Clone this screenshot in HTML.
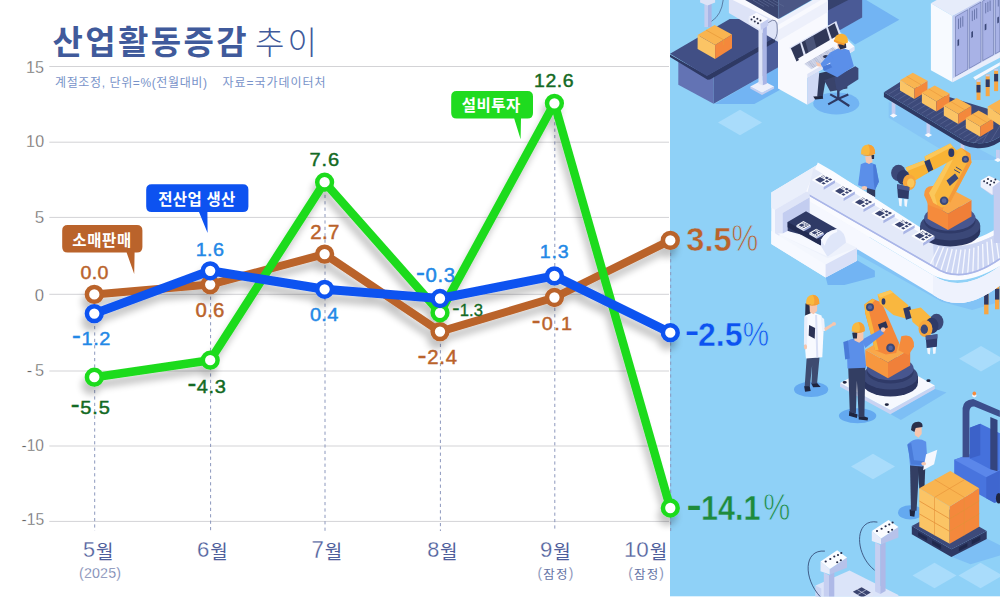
<!DOCTYPE html>
<html lang="ko"><head><meta charset="utf-8"><title>산업활동증감 추이</title>
<style>
html,body{margin:0;padding:0;background:#fff;}
body{width:1000px;height:598px;overflow:hidden;font-family:"Liberation Sans",sans-serif;}
svg{display:block;}
svg text{font-family:"Liberation Sans",sans-serif;}
svg text.k{font-family:"Liberation Sans","Noto Sans CJK KR",sans-serif;}
</style></head><body>
<svg width="1000" height="598" viewBox="0 0 1000 598" font-family="Liberation Sans, sans-serif"><rect x="0" y="0" width="1000" height="598" fill="#fff"/>
<defs><clipPath id="pc"><rect x="670" y="0" width="330" height="596.6"/></clipPath></defs><g clip-path="url(#pc)">
<rect x="670" y="0" width="330" height="596.6" fill="#8fd1f7"/>
<polygon points="718,122.5 740,109.8 762,122.5 740,135.2" fill="#a9dcfb"/>
<polygon points="851,466.5 873,453.8 895,466.5 873,479.2" fill="#a9dcfb"/>
<polygon points="912.5,575.5 934.5,562.8 956.5,575.5 934.5,588.2" fill="#a9dcfb"/>
<polygon points="958.5,575.5 980.5,562.8 1002.5,575.5 980.5,588.2" fill="#a9dcfb"/>
<polygon points="959,358.8 981,346.1 1003,358.8 981,371.5" fill="#a9dcfb"/>
<polygon points="714.4,104.1 754.3,104.1 780.6,89.5 780.6,65.7" fill="#72b4f3"/>
<polygon points="704.4,0 708.1,0 708.1,27.1 704.4,27.1" fill="#c4cdf0"/>
<polygon points="708.1,0 711.6,0 711.6,27.1 708.1,27.1" fill="#a9b4e5"/>
<polygon points="700.1,0 715.1,0 715.1,2.5 707.6,5.5 700.1,2.5" fill="#dde3f7"/>
<polygon points="678.3,60.2 713.6,77.8 713.6,103.8 678.3,84.8" fill="#6373b4"/>
<polygon points="713.6,75.7 778.4,39.1 778.4,67.2 713.6,103.8" fill="#4c5d9b"/>
<polygon points="670,54.4 706.9,75.5 775.3,36.6 775.3,41.9 710.1,79.5 707.6,79.8 670,56.9" fill="#2e3964"/>
<polygon points="670,53.7 729.7,19.1 779.1,19.1 779.1,35.1 706.9,76" fill="#414f85"/>
<polygon points="697.6,35.1 715.1,45.1 715.1,58.9 697.6,48.9" fill="#fbc465"/>
<polygon points="715.1,45.1 732,34.4 732,48.2 715.1,58.9" fill="#f4883c"/>
<polygon points="697.6,35.1 714.6,25.1 732,34.4 715.1,45.1" fill="#f9b450"/>
<polyline points="706.1,30.1 723.7,39.9 723.7,45.1" fill="none" stroke="#e89a3a" stroke-width="0.8"/>
<polygon points="728.9,0 745.2,0 778.4,19.6 778.4,42.1 728.9,13" fill="#dde3f7"/>
<polygon points="732.7,0 747.8,0 779.4,18.1 779.4,23.1" fill="#f8f9fe"/>
<polygon points="745.2,0 778.4,0 778.4,19.1" fill="#39446f"/>
<polygon points="778.4,0 811.7,0 778.4,19.1" fill="#4a5685"/>
<polyline points="752.8,0 764.1,6.5" fill="none" stroke="#5c6894" stroke-width="0.7"/>
<polyline points="757.8,0 769.1,6.5" fill="none" stroke="#5c6894" stroke-width="0.7"/>
<polyline points="762.8,0 774.1,6.5" fill="none" stroke="#5c6894" stroke-width="0.7"/>
<polyline points="767.8,0 779.1,6.5" fill="none" stroke="#5c6894" stroke-width="0.7"/>
<polyline points="772.8,0 784.1,6.5" fill="none" stroke="#5c6894" stroke-width="0.7"/>
<path d="M723.2,0Q721.4,15 711.6,21.3" fill="none" stroke="#39446f" stroke-width="0.6"/>
<polygon points="750.3,86.5 762,92.8 774.1,86.5 774.1,88.5 762,95.1 750.3,88.5" fill="#c4cdf0"/>
<polygon points="750.3,86.5 762,80.3 774.1,86.5 762,92.8" fill="#edf0fb"/>
<polygon points="758.5,25.1 762.8,25.1 762.8,85.3 758.5,83.8" fill="#dde3f7"/>
<polygon points="762.8,25.1 766.8,25.1 766.8,83.8 762.8,85.3" fill="#a9b4e5"/>
<polygon points="748.3,17.1 756.5,12.5 768.3,19.1 768.3,25.6 760.8,30.1 748.3,23.1" fill="#c4cdf0"/>
<polygon points="748.3,17.1 756.5,12.5 768.3,19.1 760.3,23.8" fill="#f8f9fe"/>
<polygon points="748.3,17.1 760.3,23.8 760.8,30.1 748.3,23.1" fill="#edf0fb"/>
<ellipse cx="751.5" cy="19.6" rx="1" ry="1" fill="#2a2f4a"/>
<ellipse cx="754.8" cy="21.6" rx="1" ry="1" fill="#2a2f4a"/>
<ellipse cx="758" cy="23.3" rx="1" ry="1" fill="#2a2f4a"/>
<ellipse cx="754" cy="17.1" rx="1" ry="1" fill="#2a2f4a"/>
<ellipse cx="757.3" cy="18.8" rx="1" ry="1" fill="#2a2f4a"/>
<ellipse cx="760.5" cy="20.6" rx="1" ry="1" fill="#2a2f4a"/>
<path d="M768.3,22.6Q777.9,15 777.3,30.1Q777.3,37.6 772.8,41.4" fill="none" stroke="#39446f" stroke-width="0.6"/>
<polygon points="862.2,0 866.2,0 899.3,19.7 855.1,44.6 838.3,30.1 862.2,17.5" fill="#72b4f3"/>
<polygon points="827.8,0 862.2,0 862.2,17.5 840.1,29.9 827.8,25.1" fill="#4a5a96"/>
<polygon points="827.8,0 848.3,0 827.8,10.4" fill="#36426e"/>
<polygon points="778,20.1 827.8,-8.4 827.8,26.1 840.7,33.7 854.3,46.6 854.3,50.6 807.3,77.9 807.3,104.8 778,88.4" fill="#f8f9fe"/>
<polygon points="778,20.1 827.8,-8.4 827.8,-4 778,24.9" fill="#edf0fb"/>
<polygon points="778,30.1 827.8,1 827.8,12 778,41.2" fill="#edf0fb"/>
<polygon points="789.3,47.8 836.3,20.9 840.7,33.7 798.1,58.6" fill="#dde3f7"/>
<polygon points="790.9,48.2 800.1,43 804.1,57 796.5,61.4" fill="#2f3757"/>
<polygon points="801.7,42.2 826.2,28.1 830.2,41.2 806.1,55.2" fill="#2f3757"/>
<polygon points="827.8,27.3 834.7,23.3 839.3,35.7 832.2,39.8" fill="#2f3757"/>
<polygon points="805.1,40.6 813.2,35.7 816.6,48.2 808.6,53" fill="#4a5478"/>
<polygon points="798.1,58.6 840.7,33.7 854.3,46.6 807.3,73.9" fill="#f8f9fe"/>
<polygon points="807.3,73.9 854.3,46.6 854.3,50.6 807.3,77.9" fill="#dde3f7"/>
<polygon points="804.1,63.9 833.9,46.6 840.3,52.6 811.2,69.3" fill="#dfe4f5"/>
<polyline points="805.7,63.5 833.5,47.4" fill="none" stroke="#555f86" stroke-width="0.5" stroke-dasharray="0.7 0.7"/>
<polyline points="806.7,64.3 834.5,48.2" fill="none" stroke="#555f86" stroke-width="0.5" stroke-dasharray="0.7 0.7"/>
<polyline points="807.8,65.1 835.5,49" fill="none" stroke="#555f86" stroke-width="0.5" stroke-dasharray="0.7 0.7"/>
<polyline points="808.8,65.9 836.5,49.8" fill="none" stroke="#555f86" stroke-width="0.5" stroke-dasharray="0.7 0.7"/>
<polyline points="809.8,66.7 837.5,50.6" fill="none" stroke="#555f86" stroke-width="0.5" stroke-dasharray="0.7 0.7"/>
<polyline points="810.8,67.5 838.5,51.4" fill="none" stroke="#555f86" stroke-width="0.5" stroke-dasharray="0.7 0.7"/>
<polyline points="811.8,68.3 839.5,52.2" fill="none" stroke="#555f86" stroke-width="0.5" stroke-dasharray="0.7 0.7"/>
<ellipse cx="825.8" cy="56.6" rx="2.8" ry="1.6" fill="#2f3757"/>
<polygon points="807.3,77.9 819.2,71.1 819.2,98 807.3,104.8" fill="#cfd9f5"/>
<ellipse cx="836.3" cy="103.4" rx="23.1" ry="11" fill="#72b4f3"/>
<polyline points="828.2,104.4 838.3,98.8 849.3,106" fill="none" stroke="#2e3964" stroke-width="2.2"/>
<polyline points="830.2,94.4 838.3,98.8 848.3,94.4" fill="none" stroke="#2e3964" stroke-width="2.2"/>
<polyline points="838.3,88.4 838.3,98.8" fill="none" stroke="#2e3964" stroke-width="2.4"/>
<polygon points="819.2,73.3 836.3,69.3 839.3,79.3 825.2,82.3 822.6,97.4 817.2,96.4" fill="#2f3a5c"/>
<polygon points="813.2,96.4 822.6,96 823.2,98.8 815.2,99.6" fill="#20263f"/>
<polygon points="824.2,80.3 839.3,74.7 847.3,82.3 847.3,88.4 830.2,91.4" fill="#39436b"/>
<polygon points="834.3,77.3 855.3,66.3 858.4,68.3 858.4,79.3 839.3,91.4 836.3,88.4" fill="#3b4878"/>
<polygon points="830.2,52.6 840.3,47.2 849.3,50.2 853.9,66.3 837.3,77.3 823.2,70.3 822.6,66.3 830.2,64.3" fill="#5b8fe9"/>
<polygon points="822.6,66.3 830.2,63.9 832.2,67.3 824.2,70.7" fill="#4a7bd8"/>
<polygon points="830.2,52.6 833.9,60.2 822.6,67.3 820.2,64.3" fill="#5b8fe9"/>
<polygon points="815.8,61.8 820.6,63.9 821.8,66.7 817.4,66.3" fill="#f6c6ae"/>
<ellipse cx="841.3" cy="45.2" rx="4" ry="4.4" fill="#f6c6ae"/>
<polygon points="837.9,44.6 845.9,43.2 846.3,47.8 840.3,49.4" fill="#2a2f4a"/>
<path d="M834.3,40.2Q835.3,33.1 842.3,33.7Q848.7,35.1 847.9,42.6L844.7,43.8Q838.3,43.2 834.3,40.2Z" fill="#f9b335"/>
<polygon points="833.9,39.4 839.3,41.8 844.7,43.8 844.3,45.4 838.3,43.8 833.9,41.4" fill="#f59a2e"/>
<polygon points="930.9,3.3 936.7,0 983.5,0 952.6,15.9" fill="#e6ecfa"/>
<polygon points="930.9,3.3 952.6,15.9 952.6,82.3 930.9,70.2" fill="#f7faff"/>
<polygon points="952.6,15.9 999.9,-10.4 999.9,56.5 952.6,82.3" fill="#c3cdf1"/>
<polygon points="955.5,16.7 967.7,9.7 967.7,69.4 955.5,76.4" fill="#a8b2e6" stroke="#55639a" stroke-width="0.5"/>
<polyline points="958.5,18.7 958.5,29.1" fill="none" stroke="#6b78ad" stroke-width="1"/>
<polyline points="960.6,17.5 960.6,27.8" fill="none" stroke="#6b78ad" stroke-width="1"/>
<polyline points="962.8,16.2 962.8,26.6" fill="none" stroke="#6b78ad" stroke-width="1"/>
<polygon points="957.5,40.1 959.1,39.1 959.1,45.2 957.5,46.2" fill="#3b4878"/>
<polygon points="969.3,8.7 981,2 981,61.7 969.3,68.4" fill="#a8b2e6" stroke="#55639a" stroke-width="0.5"/>
<polyline points="972.3,10.7 972.3,21.1" fill="none" stroke="#6b78ad" stroke-width="1"/>
<polyline points="974.5,9.4 974.5,19.8" fill="none" stroke="#6b78ad" stroke-width="1"/>
<polyline points="976.7,8.2 976.7,18.6" fill="none" stroke="#6b78ad" stroke-width="1"/>
<polygon points="971.3,32.1 973,31.1 973,37.1 971.3,38.1" fill="#3b4878"/>
<polygon points="982.7,1 993.6,-5 993.6,54.7 982.7,60.7" fill="#a8b2e6" stroke="#55639a" stroke-width="0.5"/>
<polyline points="985.7,3 985.7,13.4" fill="none" stroke="#6b78ad" stroke-width="1"/>
<polyline points="987.9,1.8 987.9,12.1" fill="none" stroke="#6b78ad" stroke-width="1"/>
<polyline points="990.1,0.5 990.1,10.9" fill="none" stroke="#6b78ad" stroke-width="1"/>
<polygon points="984.7,24.4 986.4,23.4 986.4,29.4 984.7,30.4" fill="#3b4878"/>
<polygon points="995.3,-5.9 999.9,-8.4 999.9,51.3 995.3,53.8" fill="#a8b2e6" stroke="#55639a" stroke-width="0.5"/>
<polyline points="998.3,-3.8 998.3,6.5" fill="none" stroke="#6b78ad" stroke-width="1"/>
<polygon points="997.3,17.6 998.9,16.6 998.9,22.6 997.3,23.6" fill="#3b4878"/>
<polygon points="952.6,78.6 999.9,52.2 999.9,57.7 952.6,82.3" fill="#e9eefb"/>
<polygon points="973.2,77.3 999.9,62.2 999.9,65.6 975.2,79.9" fill="#f4f7fe"/>
<polygon points="976.5,79.9 980.5,79.9 980.5,100 976.5,100" fill="#f7a642"/>
<polygon points="976.5,84.9 980.5,84.9 980.5,92.5 976.5,92.5" fill="#2f3964"/>
<polygon points="976.5,79.9 980.5,79.9 980.5,81.9 976.5,81.9" fill="#c4cdf0"/>
<polygon points="985.7,74.4 989.7,74.4 989.7,96.2 985.7,96.2" fill="#f7a642"/>
<polygon points="985.7,79.4 989.7,79.4 989.7,87 985.7,87" fill="#2f3964"/>
<polygon points="985.7,74.4 989.7,74.4 989.7,76.4 985.7,76.4" fill="#c4cdf0"/>
<polygon points="994.1,68.9 998.1,68.9 998.1,91.1 994.1,91.1" fill="#f7a642"/>
<polygon points="994.1,73.9 998.1,73.9 998.1,81.4 994.1,81.4" fill="#2f3964"/>
<polygon points="994.1,68.9 998.1,68.9 998.1,70.9 994.1,70.9" fill="#c4cdf0"/>
<polygon points="888.7,101.7 899.4,107 1000,160 958.3,160 888.7,117.7" fill="#86c6f6"/>
<polygon points="891.7,100.3 895.4,100.3 895.4,115.6 891.7,115.6" fill="#c4cdf0"/>
<polygon points="889.8,115.6 893.5,113.4 897.3,115.6 893.5,117.7" fill="#f8f9fe"/>
<polygon points="926.5,120.4 930.2,120.4 930.2,135.1 926.5,135.1" fill="#c4cdf0"/>
<polygon points="924.6,135.1 928.3,133 932.1,135.1 928.3,137.3" fill="#f8f9fe"/>
<polygon points="960.7,139.1 964.4,139.1 964.4,153.8 960.7,153.8" fill="#c4cdf0"/>
<polygon points="958.8,153.8 962.6,151.7 966.3,153.8 962.6,156" fill="#f8f9fe"/>
<polygon points="996,149.8 999.8,149.8 999.8,160 996,160" fill="#c4cdf0"/>
<polygon points="994.1,160 997.9,157.9 1001.6,160 997.9,162.1" fill="#f8f9fe"/>
<path d="M883.9,92.3L883.9,96.9L963.6,145Q969.5,147.7 977.6,148.2Q989.1,148.8 1000,141.8L1000,136.7Q987.7,144.5 977,143.1Q969,142.3 963.6,140.2Z" fill="#2e3964"/>
<path d="M883.9,92.3L900,81.9L1000,112.4L1000,136.7Q987.7,144.5 977,143.1Q969,142.3 963.6,140.2Z" fill="#3d4a7a"/>
<polyline points="888.7,94.2 902.1,85.9" fill="none" stroke="#5f6c99" stroke-width="0.6"/>
<polyline points="893.4,96.9 906.8,88.6" fill="none" stroke="#5f6c99" stroke-width="0.6"/>
<polyline points="898.1,99.6 911.5,91.3" fill="none" stroke="#5f6c99" stroke-width="0.6"/>
<polyline points="902.8,102.4 916.2,94.1" fill="none" stroke="#5f6c99" stroke-width="0.6"/>
<polyline points="907.5,105.1 920.8,96.8" fill="none" stroke="#5f6c99" stroke-width="0.6"/>
<polyline points="912.1,107.8 925.5,99.5" fill="none" stroke="#5f6c99" stroke-width="0.6"/>
<polyline points="916.8,110.6 930.2,102.3" fill="none" stroke="#5f6c99" stroke-width="0.6"/>
<polyline points="921.5,113.3 934.9,105" fill="none" stroke="#5f6c99" stroke-width="0.6"/>
<polyline points="926.2,116 939.6,107.7" fill="none" stroke="#5f6c99" stroke-width="0.6"/>
<polyline points="930.9,118.7 944.2,110.4" fill="none" stroke="#5f6c99" stroke-width="0.6"/>
<polyline points="935.6,121.5 948.9,113.2" fill="none" stroke="#5f6c99" stroke-width="0.6"/>
<polyline points="940.2,124.2 953.6,115.9" fill="none" stroke="#5f6c99" stroke-width="0.6"/>
<polyline points="944.9,126.9 958.3,118.6" fill="none" stroke="#5f6c99" stroke-width="0.6"/>
<polyline points="949.6,129.7 963,121.4" fill="none" stroke="#5f6c99" stroke-width="0.6"/>
<polyline points="954.3,132.4 967.7,124.1" fill="none" stroke="#5f6c99" stroke-width="0.6"/>
<polyline points="959,135.1 972.3,126.8" fill="none" stroke="#5f6c99" stroke-width="0.6"/>
<polyline points="963.6,137.8 977,129.6" fill="none" stroke="#5f6c99" stroke-width="0.6"/>
<polyline points="968.3,140.6 981.7,132.3" fill="none" stroke="#5f6c99" stroke-width="0.6"/>
<polyline points="973,143.3 986.4,135" fill="none" stroke="#5f6c99" stroke-width="0.6"/>
<polyline points="974.9,142.9 985.1,125.8" fill="none" stroke="#5f6c99" stroke-width="0.6"/>
<polyline points="982.4,142.9 993.6,123.6" fill="none" stroke="#5f6c99" stroke-width="0.6"/>
<polyline points="990.9,140.7 1000,125.8" fill="none" stroke="#5f6c99" stroke-width="0.6"/>
<polygon points="900,80.3 914.4,88.8 914.4,99 900,90.4" fill="#fbc465"/>
<polygon points="914.4,88.8 927.5,80.8 927.5,91 914.4,99" fill="#f4883c"/>
<polygon points="900,80.3 912.8,72.8 927.5,80.8 914.4,88.8" fill="#f9b450"/>
<polyline points="906.7,76.3 921.1,84.8 921.1,88.8" fill="none" stroke="#e8963a" stroke-width="0.6"/>
<polygon points="921.9,92.8 936.4,101.4 936.4,111.6 921.9,103" fill="#fbc465"/>
<polygon points="936.4,101.4 949.5,93.4 949.5,103.5 936.4,111.6" fill="#f4883c"/>
<polygon points="921.9,92.8 934.7,85.4 949.5,93.4 936.4,101.4" fill="#f9b450"/>
<polyline points="928.6,88.8 943,97.4 943,101.4" fill="none" stroke="#e8963a" stroke-width="0.6"/>
<polygon points="943.8,105.4 958.3,114 958.3,124.1 943.8,115.6" fill="#fbc465"/>
<polygon points="958.3,114 971.4,106 971.4,116.1 958.3,124.1" fill="#f4883c"/>
<polygon points="943.8,105.4 956.7,97.9 971.4,106 958.3,114" fill="#f9b450"/>
<polyline points="950.5,101.4 965,110 965,114" fill="none" stroke="#e8963a" stroke-width="0.6"/>
<polygon points="965.8,118 980.2,126.6 980.2,136.7 965.8,128.2" fill="#fbc465"/>
<polygon points="980.2,126.6 993.3,118.5 993.3,128.7 980.2,136.7" fill="#f4883c"/>
<polygon points="965.8,118 978.6,110.5 993.3,118.5 980.2,126.6" fill="#f9b450"/>
<polyline points="972.5,114 986.9,122.5 986.9,126.6" fill="none" stroke="#e8963a" stroke-width="0.6"/>
<polygon points="987.7,106.5 1001.1,115.6 1001.1,126.3 987.7,117.2" fill="#fbc465"/>
<polygon points="1001.1,115.6 1014.5,107.6 1014.5,118.3 1001.1,126.3" fill="#f4883c"/>
<polygon points="987.7,106.5 1000,99.5 1014.5,107.6 1001.1,115.6" fill="#f9b450"/>
<polygon points="866.6,188.2 875.2,186.5 875.2,197 867.2,195.8" fill="#2f3a5c"/>
<path d="M860.8,164.2Q868.4,160.1 875.6,164.8L878.9,181.8L874.8,190L864.9,187.6L858.1,185.3Z" fill="#5b8fe9"/>
<path d="M873.1,164.2L875.6,164.8L878.9,181.8L874.8,190L873.7,181.8Z" fill="#4a7bd8"/>
<ellipse cx="864.4" cy="187.9" rx="2.8" ry="1.9" fill="#f6c6ae"/>
<polygon points="865.1,156.6 872.1,156.1 872.5,162.1 869,164 866.1,162.5" fill="#f6c6ae"/>
<polygon points="871.3,155.1 874.2,155.1 874,159 871.9,159" fill="#2a2f4a"/>
<path d="M861,153.8Q860.7,144.7 868,144.4Q875.4,144.7 875.1,153.8Q868,156.6 861,153.8Z" fill="#f9b93f"/>
<path d="M868,144.4Q875.4,144.7 875.1,153.8Q871.5,155.6 868.7,155.2Q871.2,150 868,144.4Z" fill="#f6a136"/>
<path d="M860,153.8Q868,158.4 875.4,153.5Q868,156.3 860,153.8Z" fill="#f19a30"/>
<polygon points="852.6,251.7 941.7,301.7 972.2,310 1000,301.7 1000,282.2 950.4,293 859.1,243" fill="#82c3f6"/>
<polygon points="825.6,277.1 857,260.3 874.9,270.8 874.9,277.1 844.4,285 827.7,285" fill="#72b4f3"/>
<polygon points="984.1,283.9 988.5,283.9 988.5,314.3 984.1,314.3" fill="#f7a642"/>
<polygon points="984.1,293.7 988.5,293.7 988.5,304.6 984.1,304.6" fill="#2f3964"/>
<polygon points="995,278.9 999.3,278.9 999.3,309.3 995,309.3" fill="#f7a642"/>
<polygon points="995,288.7 999.3,288.7 999.3,299.6 995,299.6" fill="#2f3964"/>
<polygon points="771.3,192.4 818.3,164.2 834,173 874.9,197.2 874.9,232.1 857,249.9 857,260.8 825.6,277.5 771.3,244" fill="#f4f7fe"/>
<polygon points="771.3,192.4 818.3,164.2 874.9,197.2 874.9,230.7 806.4,191.4 775,209.7 771.3,207.7" fill="#eaeffb"/>
<path d="M820,207.8L933,275.2Q961.3,294.3 1000,265.9L1000,285.4Q961.3,315.2 933,294.8L820,226.7Z" fill="#f6f8ff"/>
<path d="M933,275.2Q961.3,294.3 1000,265.9L1000,285.4Q961.3,315.2 933,294.8Z" fill="#eef2fd"/>
<path d="M817.8,162.6L833,171.3L935.2,237Q959.1,251.7 1000,226.7L1000,265.9Q961.3,288.7 933,275.2L803.7,197.8Z" fill="#fafbff"/>
<path d="M813.5,168.3L933,240.4Q959.1,255 1000,232.2L1000,258.7Q961.3,285.7 934.1,267L807,193.9Z" fill="#e3e9f9"/>
<path d="M807,193.9L934.1,267Q961.3,285.7 1000,258.7" fill="none" stroke="#b9c5ee" stroke-width="1.2"/>
<path d="M933,240.4Q959.1,255 1000,232.2L1000,258.7Q961.3,285.7 934.1,267Z" fill="#cdd6f3"/>
<polyline points="939.1,246.3 929.8,265.2" fill="none" stroke="#f7f9ff" stroke-width="1.3"/>
<polyline points="943.5,247.3 935.1,268.4" fill="none" stroke="#f7f9ff" stroke-width="1.3"/>
<polyline points="947.8,248.3 940.5,271.5" fill="none" stroke="#f7f9ff" stroke-width="1.3"/>
<polyline points="952.2,249 945.9,274.2" fill="none" stroke="#f7f9ff" stroke-width="1.3"/>
<polyline points="956.5,249.5 951.2,276.3" fill="none" stroke="#f7f9ff" stroke-width="1.3"/>
<polyline points="960.9,249.6 956.6,277.8" fill="none" stroke="#f7f9ff" stroke-width="1.3"/>
<polyline points="965.2,249.4 961.9,278.5" fill="none" stroke="#f7f9ff" stroke-width="1.3"/>
<polyline points="969.6,248.7 967.3,278.4" fill="none" stroke="#f7f9ff" stroke-width="1.3"/>
<polyline points="973.9,247.6 972.6,277.4" fill="none" stroke="#f7f9ff" stroke-width="1.3"/>
<polyline points="978.3,246 978,275.6" fill="none" stroke="#f7f9ff" stroke-width="1.3"/>
<polyline points="982.6,244.1 983.4,273" fill="none" stroke="#f7f9ff" stroke-width="1.3"/>
<polyline points="987,241.8 988.7,269.8" fill="none" stroke="#f7f9ff" stroke-width="1.3"/>
<polyline points="991.3,239.3 994.1,266.1" fill="none" stroke="#f7f9ff" stroke-width="1.3"/>
<polyline points="995.7,236.5 999.4,261.9" fill="none" stroke="#f7f9ff" stroke-width="1.3"/>
<polyline points="1000,233.7 1004.8,257.6" fill="none" stroke="#f7f9ff" stroke-width="1.3"/>
<path d="M807,193.9L934.1,267Q961.3,285.7 1000,258.7" fill="none" stroke="#aab6e8" stroke-width="1.6"/>
<polygon points="775,209.7 806.4,191.4 809.7,193.4 809.7,197.2 782.6,213.1 782.6,233.6 775,237.8" fill="#dfe5f8"/>
<polygon points="782.6,213.1 809.7,197.2 809.7,214.8 787.6,227.3 787.6,233.2 782.6,235.7" fill="#c3cdf0"/>
<polygon points="787.6,221.9 806,211.2 837.1,229 821,239.8 787.6,231.1" fill="#2f3a66"/>
<polygon points="787.6,227.3 821,245.7 821,239.8 787.6,221.9" fill="#222b52"/>
<polygon points="796.4,225.2 803.9,229.4 803.9,231.3 796.4,227.1" fill="#e4e9f9"/>
<polygon points="803.9,229.4 810.9,225.3 810.9,227.2 803.9,231.3" fill="#a9b5e5"/>
<polygon points="796.4,225.2 803.4,221.1 810.9,225.3 803.9,229.4" fill="#fbfcff"/>
<polygon points="798.5,225.2 801.7,226.9 804.8,225.1 801.6,223.4" fill="#3a4470"/>
<polygon points="802.4,227.3 803.9,228.1 805.2,227.4 803.8,226.6" fill="#3a4470"/>
<polygon points="804.5,226.1 806,226.9 807.3,226.1 805.9,225.3" fill="#3a4470"/>
<polygon points="804.4,224 805.8,224.8 807.2,224 805.7,223.2" fill="#3a4470"/>
<polygon points="806.5,225 807.9,225.8 809.2,225 807.8,224.2" fill="#3a4470"/>
<polyline points="802.2,222.9 803.8,223.8" fill="none" stroke="#3a4470" stroke-width="0.6"/>
<polyline points="803.1,222.3 804.8,223.2" fill="none" stroke="#3a4470" stroke-width="0.6"/>
<polygon points="809.3,232.7 816.8,237 816.8,238.8 809.3,234.6" fill="#e4e9f9"/>
<polygon points="816.8,237 823.8,232.9 823.8,234.7 816.8,238.8" fill="#a9b5e5"/>
<polygon points="809.3,232.7 816.3,228.7 823.8,232.9 816.8,237" fill="#fbfcff"/>
<polygon points="811.5,232.7 814.6,234.4 817.7,232.6 814.6,230.9" fill="#3a4470"/>
<polygon points="815.4,234.9 816.8,235.7 818.1,234.9 816.7,234.1" fill="#3a4470"/>
<polygon points="817.5,233.6 818.9,234.4 820.2,233.7 818.8,232.9" fill="#3a4470"/>
<polygon points="817.4,231.5 818.8,232.3 820.1,231.5 818.7,230.7" fill="#3a4470"/>
<polygon points="819.5,232.5 820.9,233.3 822.2,232.5 820.8,231.7" fill="#3a4470"/>
<polyline points="815.1,230.4 816.8,231.3" fill="none" stroke="#3a4470" stroke-width="0.6"/>
<polyline points="816.1,229.8 817.8,230.7" fill="none" stroke="#3a4470" stroke-width="0.6"/>
<polygon points="787.6,231.1 821,245.7 827.7,256.2 827.7,258.2 777.5,233.6 782.6,233.6" fill="#f7f9ff"/>
<path d="M821,239.8Q825.6,231.1 837.1,229Q845.5,231.1 846.1,243.6L827.7,257.2L821,246.1Z" fill="#dfe6f9"/>
<path d="M821,239.8Q825.6,231.1 837.1,229L837.1,232.1Q827.7,234.2 824.6,245.7Z" fill="#f6f8ff"/>
<polygon points="771.3,244 825.6,277.5 825.6,264.5 771.3,231.1" fill="#f7f9ff"/>
<polygon points="825.6,264.5 857,247.8 857,260.8 825.6,277.5" fill="#d9e0f7"/>
<polygon points="777.5,233.6 827.7,258.2 857,247.8 846.1,242.6 827.7,256.6" fill="#eef2fc"/>
<polygon points="993.7,193 1000,190.9 1000,243 993.7,243" fill="#c4cdf0"/>
<polygon points="980.7,180.4 988.9,175.7 1000,181.3 1000,193 991.5,195.2 980.7,187" fill="#c4cdf0"/>
<polygon points="980.7,180.4 988.9,175.7 1000,181.3 992.6,187" fill="#f8f9fe"/>
<polygon points="980.7,180.4 992.6,187 992.6,194.8 980.7,187" fill="#edf0fb"/>
<ellipse cx="984.1" cy="181.3" rx="1" ry="1" fill="#2a2f4a"/>
<ellipse cx="987.2" cy="183" rx="1" ry="1" fill="#2a2f4a"/>
<ellipse cx="990.2" cy="184.8" rx="1" ry="1" fill="#2a2f4a"/>
<ellipse cx="988" cy="179.1" rx="1" ry="1" fill="#2a2f4a"/>
<ellipse cx="991.1" cy="180.9" rx="1" ry="1" fill="#2a2f4a"/>
<ellipse cx="994.1" cy="182.6" rx="1" ry="1" fill="#2a2f4a"/>
<ellipse cx="995.4" cy="179.6" rx="1" ry="1" fill="#2a2f4a"/>
<ellipse cx="950.2" cy="231.7" rx="30" ry="14.8" fill="#2b3560"/>
<polygon points="920.2,225.7 980.2,225.7 980.2,231.7 920.2,231.7" fill="#2b3560"/>
<ellipse cx="950.2" cy="225.7" rx="30" ry="14.8" fill="#3b4878"/>
<ellipse cx="949.8" cy="220.9" rx="25.7" ry="12.6" fill="#2f3a68"/>
<ellipse cx="949.8" cy="218" rx="25.7" ry="12.6" fill="#47568f"/>
<polygon points="927.6,201.7 948,213.7 948,230 927.6,218.7" fill="#f58b3c"/>
<polygon points="948,213.7 971.5,200 971.5,216.5 948,230" fill="#f07f38"/>
<polygon points="927.6,201.7 950.2,188.7 971.5,200 948,213.7" fill="#f9a84a"/>
<path d="M924.1,195.2Q924.1,185.4 933.9,186.1L947,195.2L942.6,210.4L928.5,205Z" fill="#f7973f"/>
<polygon points="929.1,193 953.5,151.7 961.1,147.8 970.2,153.5 971.5,162.6 950.2,202.8 942,207.8 933.3,202.8" fill="#f9b73f"/>
<polygon points="929.1,193 953.5,151.7 957.8,150 934.6,195.2 937.2,205 933.3,202.8" fill="#fbc75a"/>
<polygon points="961.1,147.8 970.2,153.5 971.5,162.6 950.2,202.8 947.6,200 967.2,162.6 965.9,152.8" fill="#f49a3a"/>
<polygon points="946.5,180.4 955,173.5 958.5,178.3 949.8,186.1" fill="#3b4878"/>
<polyline points="954.1,169.6 960,173" fill="none" stroke="#3b4878" stroke-width="1"/>
<polyline points="955.9,167 961.5,170.4" fill="none" stroke="#3b4878" stroke-width="1"/>
<ellipse cx="944.1" cy="200.7" rx="4.3" ry="4.3" fill="#3b4878"/>
<ellipse cx="944.1" cy="200.7" rx="2.4" ry="2.4" fill="#56659e"/>
<ellipse cx="965.4" cy="159.3" rx="3.5" ry="3.5" fill="#3b4878"/>
<ellipse cx="965.4" cy="159.3" rx="1.7" ry="1.7" fill="#56659e"/>
<polygon points="924.6,156.5 950.2,143.5 957.8,151.7 954.1,158.7 931.7,170.9 925.9,168" fill="#f9b335"/>
<polygon points="924.6,156.5 950.2,143.5 952.8,146.5 926.3,160.4" fill="#fbc75a"/>
<ellipse cx="951.3" cy="152.8" rx="3" ry="4.3" fill="#2f3a68"/>
<polygon points="922,162.6 929.6,159.3 933.3,169.6 926.3,173.5" fill="#2f3a68"/>
<polygon points="905.7,167.4 923.7,160.4 928.5,172.4 912.2,182.2" fill="#f9b335"/>
<polygon points="905.7,167.4 923.7,160.4 925,163.9 906.7,171.3" fill="#fbc75a"/>
<ellipse cx="898.5" cy="173" rx="7.4" ry="8.3" fill="#3b4878"/>
<ellipse cx="903.3" cy="177.4" rx="6.5" ry="7.4" fill="#2f3a68"/>
<ellipse cx="909.3" cy="182.2" rx="6.5" ry="7.8" fill="#f7a63c"/>
<ellipse cx="910.7" cy="183" rx="3.7" ry="4.6" fill="#fbc75a"/>
<polygon points="897,184.3 909.3,187 908.5,199.1 898,197.8" fill="#2f3a68"/>
<polygon points="897.6,184.3 909.3,187 909.3,190.9 897.2,188.7" fill="#47568f"/>
<polygon points="898.5,198.3 902,198.7 901.5,206.5 899.3,205.7" fill="#f3f6fd"/>
<polygon points="904.1,199.1 907.6,199.6 906.7,207 904.6,206.1" fill="#f3f6fd"/>
<polygon points="811.6,179.9 823.7,186.7 823.7,189.7 811.6,182.9" fill="#e4e9f9"/>
<polygon points="823.7,186.7 835,180.1 835,183.1 823.7,189.7" fill="#a9b5e5"/>
<polygon points="811.6,179.9 822.9,173.3 835,180.1 823.7,186.7" fill="#fbfcff"/>
<polygon points="815.1,179.8 820.2,182.7 825.2,179.7 820.1,176.9" fill="#3a4470"/>
<polygon points="821.4,183.3 823.7,184.6 825.8,183.4 823.5,182.1" fill="#3a4470"/>
<polygon points="824.8,181.4 827.1,182.6 829.2,181.4 826.9,180.1" fill="#3a4470"/>
<polygon points="824.6,177.9 826.9,179.2 829,177.9 826.7,176.6" fill="#3a4470"/>
<polygon points="827.9,179.5 830.2,180.8 832.4,179.5 830.1,178.2" fill="#3a4470"/>
<polyline points="821,176.1 823.6,177.6" fill="none" stroke="#3a4470" stroke-width="0.6"/>
<polyline points="822.5,175.2 825.2,176.7" fill="none" stroke="#3a4470" stroke-width="0.6"/>
<polygon points="831.5,191.1 843.6,197.9 843.6,200.9 831.5,194.1" fill="#e4e9f9"/>
<polygon points="843.6,197.9 854.9,191.3 854.9,194.3 843.6,200.9" fill="#a9b5e5"/>
<polygon points="831.5,191.1 842.8,184.5 854.9,191.3 843.6,197.9" fill="#fbfcff"/>
<polygon points="835,191 840.1,193.9 845.1,190.9 840,188.1" fill="#3a4470"/>
<polygon points="841.3,194.5 843.6,195.8 845.7,194.6 843.4,193.3" fill="#3a4470"/>
<polygon points="844.7,192.6 847,193.8 849.1,192.6 846.8,191.3" fill="#3a4470"/>
<polygon points="844.5,189.1 846.8,190.4 848.9,189.1 846.6,187.8" fill="#3a4470"/>
<polygon points="847.8,190.7 850.1,192 852.3,190.7 850,189.4" fill="#3a4470"/>
<polyline points="840.9,187.3 843.5,188.8" fill="none" stroke="#3a4470" stroke-width="0.6"/>
<polyline points="842.4,186.4 845.1,187.9" fill="none" stroke="#3a4470" stroke-width="0.6"/>
<polygon points="851.4,202.3 863.5,209.1 863.5,212.1 851.4,205.3" fill="#e4e9f9"/>
<polygon points="863.5,209.1 874.8,202.5 874.8,205.5 863.5,212.1" fill="#a9b5e5"/>
<polygon points="851.4,202.3 862.7,195.7 874.8,202.5 863.5,209.1" fill="#fbfcff"/>
<polygon points="854.9,202.2 860,205.1 865,202.1 859.9,199.3" fill="#3a4470"/>
<polygon points="861.2,205.7 863.5,207 865.6,205.8 863.3,204.5" fill="#3a4470"/>
<polygon points="864.6,203.8 866.9,205 869,203.8 866.7,202.5" fill="#3a4470"/>
<polygon points="864.4,200.3 866.7,201.6 868.8,200.3 866.5,199" fill="#3a4470"/>
<polygon points="867.7,201.9 870,203.2 872.2,201.9 869.9,200.7" fill="#3a4470"/>
<polyline points="860.8,198.5 863.4,200" fill="none" stroke="#3a4470" stroke-width="0.6"/>
<polyline points="862.3,197.6 865,199.1" fill="none" stroke="#3a4470" stroke-width="0.6"/>
<polygon points="871.3,213.5 883.4,220.3 883.4,223.3 871.3,216.5" fill="#e4e9f9"/>
<polygon points="883.4,220.3 894.7,213.7 894.7,216.7 883.4,223.3" fill="#a9b5e5"/>
<polygon points="871.3,213.5 882.6,206.9 894.7,213.7 883.4,220.3" fill="#fbfcff"/>
<polygon points="874.8,213.4 879.9,216.3 884.9,213.3 879.8,210.5" fill="#3a4470"/>
<polygon points="881.1,216.9 883.4,218.2 885.5,217 883.2,215.7" fill="#3a4470"/>
<polygon points="884.5,215 886.8,216.2 888.9,215 886.6,213.7" fill="#3a4470"/>
<polygon points="884.3,211.5 886.6,212.8 888.7,211.5 886.4,210.2" fill="#3a4470"/>
<polygon points="887.6,213.1 889.9,214.4 892.1,213.1 889.8,211.8" fill="#3a4470"/>
<polyline points="880.7,209.7 883.3,211.2" fill="none" stroke="#3a4470" stroke-width="0.6"/>
<polyline points="882.2,208.8 884.9,210.3" fill="none" stroke="#3a4470" stroke-width="0.6"/>
<polygon points="891.2,224.7 903.3,231.5 903.3,234.5 891.2,227.7" fill="#e4e9f9"/>
<polygon points="903.3,231.5 914.6,224.9 914.6,227.9 903.3,234.5" fill="#a9b5e5"/>
<polygon points="891.2,224.7 902.5,218.1 914.6,224.9 903.3,231.5" fill="#fbfcff"/>
<polygon points="894.7,224.6 899.8,227.5 904.8,224.5 899.7,221.7" fill="#3a4470"/>
<polygon points="901,228.1 903.3,229.4 905.4,228.2 903.1,226.9" fill="#3a4470"/>
<polygon points="904.4,226.2 906.7,227.4 908.8,226.2 906.5,224.9" fill="#3a4470"/>
<polygon points="904.2,222.7 906.5,224 908.6,222.7 906.3,221.4" fill="#3a4470"/>
<polygon points="907.5,224.3 909.8,225.6 912,224.3 909.7,223" fill="#3a4470"/>
<polyline points="900.6,220.9 903.2,222.4" fill="none" stroke="#3a4470" stroke-width="0.6"/>
<polyline points="902.1,220 904.8,221.5" fill="none" stroke="#3a4470" stroke-width="0.6"/>
<polygon points="911.1,235.9 923.2,242.7 923.2,245.7 911.1,238.9" fill="#e4e9f9"/>
<polygon points="923.2,242.7 934.5,236.1 934.5,239.1 923.2,245.7" fill="#a9b5e5"/>
<polygon points="911.1,235.9 922.4,229.3 934.5,236.1 923.2,242.7" fill="#fbfcff"/>
<polygon points="914.6,235.8 919.7,238.7 924.7,235.7 919.6,232.9" fill="#3a4470"/>
<polygon points="920.9,239.3 923.2,240.6 925.3,239.4 923,238.1" fill="#3a4470"/>
<polygon points="924.3,237.4 926.6,238.6 928.7,237.4 926.4,236.1" fill="#3a4470"/>
<polygon points="924.1,233.9 926.4,235.2 928.5,233.9 926.2,232.6" fill="#3a4470"/>
<polygon points="927.4,235.5 929.7,236.8 931.9,235.5 929.6,234.2" fill="#3a4470"/>
<polyline points="920.5,232.1 923.1,233.6" fill="none" stroke="#3a4470" stroke-width="0.6"/>
<polyline points="922,231.2 924.7,232.7" fill="none" stroke="#3a4470" stroke-width="0.6"/>
<ellipse cx="811.1" cy="389.4" rx="17.1" ry="7.6" fill="#64a9f0"/>
<polygon points="804.1,386.3 809.5,385.3 810.7,391 805.1,391.8" fill="#1f2540"/>
<polygon points="811.1,383.3 817.1,382.9 820.7,386.9 813.1,387.3" fill="#1f2540"/>
<polygon points="806.7,357.2 819.5,357.2 817.1,383.3 811.5,383.7 812.1,365.3 809.9,386.3 804.7,386.3" fill="#3e4b70"/>
<polygon points="805.5,303.5 810.7,302.7 810.7,315.1 805.1,316.1" fill="#2a2f4a"/>
<polygon points="805.1,315.5 813.1,312.3 821.5,315.5 823.5,332.2 822.3,357.2 805.9,358.4 804.3,337.6" fill="#f8faff"/>
<polygon points="815.1,315.1 817.1,315.1 818.3,357.2 816.3,357.2" fill="#d9e0f5"/>
<polygon points="804.3,316.3 807.5,317.1 807.1,345.2 803.9,344.8" fill="#e9eefb"/>
<ellipse cx="805.5" cy="346.8" rx="1.6" ry="2.6" fill="#f6c6ae"/>
<polygon points="820.7,316.3 824.1,319.1 825.1,330.8 822.3,331.6" fill="#eef2fc"/>
<polygon points="824.3,327.9 833.2,322.7 834.6,324.7 825.1,331.2" fill="#f6c6ae"/>
<ellipse cx="834" cy="323.9" rx="2" ry="1.8" fill="#f6c6ae"/>
<polygon points="809.1,325.1 815.1,328.1 814.7,338.8 808.7,335.6" fill="#2b3255"/>
<polygon points="809.5,305.1 817.1,304.7 817.1,311.1 813.5,314.3 809.9,312.3" fill="#f6c6ae"/>
<path d="M806.1,303.8Q805.7,295.2 812.7,294.8Q819.6,295.2 819.3,303.8Q812.7,306.4 806.1,303.8Z" fill="#f9b93f"/>
<path d="M812.7,294.8Q819.6,295.2 819.3,303.8Q816,305.4 813.4,305.1Q815.7,300.1 812.7,294.8Z" fill="#f6a136"/>
<path d="M805.1,303.8Q812.7,308.1 819.6,303.4Q812.7,306.1 805.1,303.8Z" fill="#f19a30"/>
<polygon points="890.3,413.9 934.8,388.9 946.5,392.4 900.9,420" fill="#7dbff5"/>
<polygon points="840,383 890.3,409.9 934.8,385.4 934.8,389.1 890.3,414.2 840,386.8" fill="#c9d3f2"/>
<polygon points="840,383 886.8,358.4 934.8,385.4 890.3,409.9" fill="#f6f8fe"/>
<ellipse cx="844.7" cy="382.3" rx="2.1" ry="1.4" fill="#1f2540"/>
<ellipse cx="886.8" cy="404.6" rx="2.1" ry="1.4" fill="#1f2540"/>
<ellipse cx="928.5" cy="380.7" rx="2.1" ry="1.4" fill="#1f2540"/>
<ellipse cx="890.3" cy="383" rx="27.6" ry="13.6" fill="#2b3560"/>
<polygon points="862.7,376 918,376 918,383 862.7,383" fill="#2b3560"/>
<ellipse cx="890.3" cy="376" rx="27.6" ry="13.6" fill="#3b4878"/>
<ellipse cx="890.3" cy="371.8" rx="23.4" ry="11.7" fill="#2f3a68"/>
<ellipse cx="890.3" cy="368.5" rx="23.4" ry="11.7" fill="#47568f"/>
<polygon points="865.3,349.8 888,362.4 888,378.3 865.3,365.5" fill="#f7973f"/>
<polygon points="888,362.4 910.2,349.1 910.2,365.5 888,378.3" fill="#f0803a"/>
<polygon points="865.3,349.8 886.8,337.4 910.2,349.1 888,362.4" fill="#f9a84a"/>
<path d="M901.3,336.2Q914.5,332.7 914,346.7L908.4,354.9L898.5,350.2Z" fill="#f58b3c"/>
<polygon points="864.4,304.6 872.3,298.7 881.7,302.5 899,342.7 896.2,353.1 885.9,354.5 875.1,350.2 865.3,313.2" fill="#f4873b"/>
<polygon points="864.4,304.6 872.3,298.7 875.1,300.1 868.1,307.6 878.6,350.2 875.1,350.2 865.3,313.2" fill="#f9b73f"/>
<polygon points="877.9,324.5 885.9,321.2 888,327.3 880.3,331" fill="#2b3255"/>
<ellipse cx="870" cy="307.2" rx="4" ry="4" fill="#3b4878"/>
<ellipse cx="870" cy="307.2" rx="2.1" ry="2.1" fill="#56659e"/>
<ellipse cx="890.6" cy="347.9" rx="4.4" ry="4.4" fill="#3b4878"/>
<ellipse cx="890.6" cy="347.9" rx="2.3" ry="2.3" fill="#56659e"/>
<polygon points="877.5,294.5 890.3,290.3 908.4,305.3 905.6,318.6 893.4,315.1 879.8,303.4" fill="#f9b73f"/>
<polygon points="877.5,294.5 890.3,290.3 893.4,292.6 880.3,297.8" fill="#fbc75a"/>
<ellipse cx="883.5" cy="301.5" rx="1.9" ry="3.3" fill="#2f3a68"/>
<polygon points="903.2,308.6 910.2,306.2 913.1,317.5 906,319.8" fill="#2f3a68"/>
<polygon points="909.3,310 920.8,307.6 933.2,319.3 921.9,330.1 912.6,322.1" fill="#f9b73f"/>
<ellipse cx="936.5" cy="322.1" rx="7" ry="8.4" fill="#3b4878"/>
<ellipse cx="931.8" cy="325.7" rx="6.6" ry="8" fill="#2f3a68"/>
<ellipse cx="925.5" cy="328.7" rx="7" ry="8.4" fill="#f7a63c"/>
<ellipse cx="924.3" cy="329.2" rx="3.7" ry="4.7" fill="#3b4878"/>
<polygon points="925.7,335.7 937.4,334.3 936.9,346.7 926.6,347.9" fill="#2f3a68"/>
<polygon points="925.7,335.7 937.4,334.3 937.4,338.5 925.7,339.9" fill="#47568f"/>
<polygon points="927.1,347.9 930.4,347.9 929.9,354.5 927.6,353.5" fill="#f3f6fd"/>
<polygon points="932.7,347.4 936,347 935.5,353.5 933.2,354" fill="#f3f6fd"/>
<ellipse cx="857.6" cy="415.8" rx="18.7" ry="7.5" fill="#64a9f0"/>
<polygon points="849.4,411.1 857.6,414.6 856.9,418.1 848.9,415.8" fill="#1f2540"/>
<polygon points="858.7,414.6 868.1,417.7 867.6,420.5 858.7,419.5" fill="#1f2540"/>
<polygon points="848.2,367.1 865.3,367.1 864.4,417 858.7,417 856.9,380.7 855.9,413.5 849.8,412.3" fill="#333e63"/>
<path d="M846.6,341.3Q854,336.2 863.4,340.4L866.2,367.8L847.5,368.5Z" fill="#5b8fe9"/>
<polygon points="843.3,342 848,340.4 849.8,358.4 845.2,359.6" fill="#4a7bd8"/>
<polygon points="861.5,339.9 881,329.2 884,333.4 865.3,347.9" fill="#5b8fe9"/>
<ellipse cx="883.1" cy="329.6" rx="2.3" ry="2.3" fill="#f6c6ae"/>
<polygon points="853.6,332.7 863.4,332 863.4,339.7 859.2,342.7 854.5,340.4" fill="#f6c6ae"/>
<polygon points="852.2,332.7 857.3,332 856.9,338.5 853.1,338.5" fill="#2a2f4a"/>
<path d="M851.7,331Q851.4,322.5 858.3,322.1Q865.1,322.5 864.8,331Q858.3,333.6 851.7,331Z" fill="#f9b93f"/>
<path d="M858.3,322.1Q865.1,322.5 864.8,331Q861.5,332.6 858.9,332.3Q861.2,327.4 858.3,322.1Z" fill="#f6a136"/>
<path d="M850.7,331Q858.3,335.3 865.1,330.7Q858.3,333.3 850.7,331Z" fill="#f19a30"/>
<polygon points="954.2,459.8 969.2,454.6 999.9,470.6 999.9,501.3 994.3,502.7 954.2,480.7" fill="#4874de"/>
<polygon points="954.2,459.8 969.2,454.6 999.9,470.6 986.3,477.3" fill="#5b87ea"/>
<polygon points="986.3,477.3 999.9,470.6 999.9,501.3 994.3,502.7 986.3,498.3" fill="#3f66cf"/>
<polygon points="969.8,427.7 980.3,423.7 999.9,433.3 999.9,470.6 990.3,469.2 969.8,458.6" fill="#4571dc"/>
<polygon points="969.8,427.7 980.3,423.7 980.3,455.2 969.8,458.6" fill="#3c62c9"/>
<path d="M962.6,457.2L962.6,408Q963.2,400 973.2,399L999.9,410.4L999.9,417.1L974.3,406.4Q969.4,406 969.4,412L969.4,457.2Z" fill="#3c4e8c"/>
<polygon points="990.3,417.1 997.5,420.1 997.5,471.2 990.3,469.2" fill="#34447e"/>
<ellipse cx="998.7" cy="498.3" rx="2.8" ry="5.2" fill="#1f2540"/>
<ellipse cx="974.3" cy="395.6" rx="2.2" ry="1.8" fill="#f3f6fd"/>
<ellipse cx="974.3" cy="393.6" rx="1.8" ry="2" fill="#f58b3c"/>
<ellipse cx="910.4" cy="512.4" rx="12.4" ry="7.2" fill="#64a9f0"/>
<polygon points="909.6,509.4 915.3,509.4 914.4,516.8 910,516" fill="#1f2540"/>
<polygon points="910,464.6 919.3,465.8 916.5,510.8 911,510.8" fill="#333e63"/>
<polygon points="917.7,465.8 925.3,466.6 924.5,486.7 919.3,488.7" fill="#2c3658"/>
<path d="M908,443.7Q916.5,436.1 926.1,441.7L927.3,460.2L921.7,466.6L910,465.4Z" fill="#5b8fe9"/>
<polygon points="907.2,444.6 911.2,443.1 914,460.2 924.1,461.2 923.7,465.2 911,464.6" fill="#4a7bd8"/>
<polygon points="926.1,454.2 937.3,449.8 934.1,464.2 923.1,470.2" fill="#f4f7fe"/>
<ellipse cx="923.7" cy="463.8" rx="2.4" ry="1.8" fill="#f6c6ae"/>
<polygon points="914.4,427.1 921.7,426.1 921.7,434.1 918.5,437.7 914.9,435.3" fill="#f6c6ae"/>
<path d="M911,430.1Q911,421.1 919.1,421.7Q923.1,422.5 922.5,427.1L915.7,428.1L914.4,432.1Z" fill="#2a2f4a"/>
<polygon points="951.4,556.7 986.7,538.5 1000,545.3 1000,555.6 970.6,564.2" fill="#7dbff5"/>
<polygon points="911.8,526.1 951.4,549.2 986.7,531 986.7,538.9 951.4,557.1 911.8,534.2" fill="#2e3964"/>
<polygon points="911.8,526.1 946,507.5 986.7,531 951.4,549.2" fill="#3d4a7a"/>
<polygon points="918.2,532.1 927.2,537.2 927.2,541.1 918.2,535.9" fill="#1f284d"/>
<polygon points="932.1,540.2 941.1,545.3 941.1,549.2 932.1,544.1" fill="#1f284d"/>
<polygon points="958.9,547.5 967.4,543 967.4,546.8 958.9,551.3" fill="#1f284d"/>
<polygon points="971.7,540.6 980.3,536.1 980.3,540 971.7,544.5" fill="#1f284d"/>
<polygon points="919.3,488.2 949.7,506.4 949.7,543.8 919.3,526.7" fill="#fbc465"/>
<polygon points="949.7,506.4 979.2,488.2 979.2,526.7 949.7,543.8" fill="#f4883c"/>
<polygon points="919.3,488.2 950.3,471.1 979.2,488.2 949.7,506.4" fill="#f9b450"/>
<polyline points="919.3,501 949.7,518.9 979.2,501" fill="none" stroke="#e59138" stroke-width="0.8"/>
<polyline points="919.3,513.9 949.7,531.4 979.2,513.9" fill="none" stroke="#e59138" stroke-width="0.8"/>
<polyline points="934.5,497.4 934.5,535.3" fill="none" stroke="#e59138" stroke-width="0.6"/>
<polyline points="964.4,497.4 964.4,535.3" fill="none" stroke="#e59138" stroke-width="0.6"/>
<polyline points="934.7,479.6 964.4,497.4" fill="none" stroke="#e59138" stroke-width="0.6"/>
<polyline points="934.5,497.4 964.6,479.6" fill="none" stroke="#e59138" stroke-width="0.6"/>
<polygon points="815.6,585.6 849.5,570.5 898.4,595.1 898.4,598.4 815.6,598.4" fill="#dbe4f9"/>
<polygon points="815.6,585.6 821.3,588.5 821.3,598.4 815.6,598.4" fill="#c9d4f3"/>
<polygon points="875.1,542.3 880.3,544.9 880.3,594.1 875.1,591.5" fill="#c6cff1"/>
<polygon points="880.3,544.9 885.6,542 885.6,591.1 880.3,594.1" fill="#aeb9e7"/>
<polygon points="871.8,531.1 881.1,538.5 881.1,544.3 871.8,541" fill="#e6ebfa"/>
<polygon points="881.1,538.5 898.4,527 898.4,537.4 881.1,544.3" fill="#b7c2ea"/>
<polygon points="871.8,531.1 888.5,520 898.4,527 881.1,538.5" fill="#fbfcff"/>
<ellipse cx="877" cy="531.1" rx="1.1" ry="1" fill="#232a4a"/>
<ellipse cx="881.6" cy="528.7" rx="1.1" ry="1" fill="#232a4a"/>
<ellipse cx="885.6" cy="526.2" rx="1.1" ry="1" fill="#232a4a"/>
<ellipse cx="889.3" cy="524.6" rx="1.1" ry="1" fill="#232a4a"/>
<ellipse cx="892.6" cy="522.6" rx="1.1" ry="1" fill="#232a4a"/>
<ellipse cx="888.5" cy="532" rx="1.1" ry="1" fill="#232a4a"/>
<ellipse cx="892.1" cy="529.8" rx="1.1" ry="1" fill="#232a4a"/>
<path d="M877.4,522.1C854.1,518 854.1,554.1 874.6,570.2" fill="none" stroke="#2c3f6b" stroke-width="0.8"/>
<polygon points="823.8,572.6 829,575.2 829,608 823.8,605.4" fill="#c6cff1"/>
<polygon points="829,575.2 834.3,572.3 834.3,605.1 829,608" fill="#aeb9e7"/>
<polygon points="820.5,561.5 829.8,568.9 829.8,574.6 820.5,571.3" fill="#e6ebfa"/>
<polygon points="829.8,568.9 847,557.4 847,567.7 829.8,574.6" fill="#b7c2ea"/>
<polygon points="820.5,561.5 837.2,550.3 847,557.4 829.8,568.9" fill="#fbfcff"/>
<ellipse cx="825.7" cy="561.5" rx="1.1" ry="1" fill="#232a4a"/>
<ellipse cx="830.3" cy="559" rx="1.1" ry="1" fill="#232a4a"/>
<ellipse cx="834.3" cy="556.6" rx="1.1" ry="1" fill="#232a4a"/>
<ellipse cx="838" cy="554.9" rx="1.1" ry="1" fill="#232a4a"/>
<ellipse cx="841.3" cy="553" rx="1.1" ry="1" fill="#232a4a"/>
<ellipse cx="837.2" cy="562.3" rx="1.1" ry="1" fill="#232a4a"/>
<ellipse cx="840.8" cy="560.2" rx="1.1" ry="1" fill="#232a4a"/>
<path d="M824.9,551.1C803.3,549.2 803.3,578.7 820.5,597" fill="none" stroke="#2c3f6b" stroke-width="0.8"/>
<polygon points="850.8,592.1 861.6,586.1 873.1,592.8 873.1,598.4 850.8,598.4" fill="#dfe5f7"/>
<polygon points="852.8,591.8 861.6,587.2 870.8,592.6 862.3,597.7" fill="#3a4470"/>
<polyline points="857.2,589.5 866.4,595.1" fill="none" stroke="#dfe5f7" stroke-width="0.6"/>
<polyline points="857.4,594.8 866.2,589.8" fill="none" stroke="#dfe5f7" stroke-width="0.6"/>
</g>
<g stroke="#d3d3d6" stroke-width="1">
<line x1="49.3" y1="66.5" x2="669" y2="66.5"/>
<line x1="49.3" y1="142.2" x2="669" y2="142.2"/>
<line x1="49.3" y1="217.4" x2="669" y2="217.4"/>
<line x1="49.3" y1="294.3" x2="669" y2="294.3"/>
<line x1="49.3" y1="371.0" x2="669" y2="371.0"/>
<line x1="49.3" y1="446.0" x2="669" y2="446.0"/>
<line x1="49.3" y1="521.4" x2="669" y2="521.4"/>
</g>
<g>
<text transform="translate(26.11,73.34) scale(0.992,1)" font-size="16.29" fill="#666666" stroke="#fff" stroke-width="0.28">15</text>
<text transform="translate(26.12,147.34) scale(1.000,1)" font-size="16.06" letter-spacing="0.10" fill="#666666" stroke="#fff" stroke-width="0.28">10</text>
<text transform="translate(34.72,222.64) scale(1.045,1)" font-size="16.29" fill="#666666" stroke="#fff" stroke-width="0.28">5</text>
<text transform="translate(34.73,301.24) scale(1.038,1)" font-size="16.06" fill="#666666" stroke="#fff" stroke-width="0.28">0</text>
<text transform="translate(26.75,375.64) scale(1.000,1)" font-size="16.29" letter-spacing="2.81" fill="#666666" stroke="#fff" stroke-width="0.28">-5</text>
<text transform="translate(21.48,450.64) scale(0.968,1)" font-size="16.06" fill="#666666" stroke="#fff" stroke-width="0.28">-10</text>
<text transform="translate(21.47,525.34) scale(0.962,1)" font-size="16.29" fill="#666666" stroke="#fff" stroke-width="0.28">-15</text>
</g>
<g stroke="#8c98bd" stroke-width="1" stroke-dasharray="3.2 3.2" fill="none">
<line x1="94.7" y1="294" x2="94.7" y2="531"/>
<line x1="210.6" y1="271" x2="210.6" y2="531"/>
<line x1="325.0" y1="182" x2="325.0" y2="531"/>
<line x1="440.4" y1="299" x2="440.4" y2="531"/>
<line x1="554.8" y1="103" x2="554.8" y2="531"/>
<line x1="670.7" y1="240" x2="670.7" y2="531"/>
</g>
<text class="k" x="52.5" y="54" font-size="33" font-weight="bold" fill="#405a9b" textLength="194" lengthAdjust="spacing">산업활동증감</text>
<text class="k" x="255" y="54" font-size="32" font-weight="300" fill="#405a9b" textLength="62" lengthAdjust="spacing">추이</text>
<text class="k" x="55" y="87.3" font-size="12" fill="#7893c9" textLength="152" lengthAdjust="spacing">계절조정, 단위=%(전월대비)</text>
<text class="k" x="222.5" y="87.3" font-size="12" fill="#7893c9" textLength="103" lengthAdjust="spacing">자료=국가데이터처</text>
<defs><filter id="sh" x="-5%" y="-5%" width="110%" height="115%"><feGaussianBlur in="SourceAlpha" stdDeviation="3.6"/><feOffset dx="-3" dy="8"/><feComponentTransfer><feFuncA type="linear" slope="0.23"/></feComponentTransfer><feMerge><feMergeNode/><feMergeNode in="SourceGraphic"/></feMerge></filter></defs>
<g filter="url(#sh)">
<polyline points="94.3,294.4 210.2,284.6 324.6,254.1 440.0,331.6 554.4,297.5 670.3,240.4" fill="none" stroke="#ba632b" stroke-width="8.0" stroke-linejoin="round" stroke-linecap="round"/><circle cx="94.3" cy="294.4" r="7.4" fill="#fff" stroke="#ba632b" stroke-width="4.5"/><circle cx="210.2" cy="284.6" r="7.4" fill="#fff" stroke="#ba632b" stroke-width="4.5"/><circle cx="324.6" cy="254.1" r="7.4" fill="#fff" stroke="#ba632b" stroke-width="4.5"/><circle cx="440.0" cy="331.6" r="7.4" fill="#fff" stroke="#ba632b" stroke-width="4.5"/><circle cx="554.4" cy="297.5" r="7.4" fill="#fff" stroke="#ba632b" stroke-width="4.5"/><circle cx="670.3" cy="240.4" r="7.4" fill="#fff" stroke="#ba632b" stroke-width="4.5"/>
<polyline points="94.3,377.2 210.2,360.2 324.6,182.2 440.0,312.8 554.4,103.3 670.3,508.0" fill="none" stroke="#1fdb1f" stroke-width="8.5" stroke-linejoin="round" stroke-linecap="round"/><circle cx="94.3" cy="377.2" r="7.4" fill="#fff" stroke="#1fdb1f" stroke-width="4.5"/><circle cx="210.2" cy="360.2" r="7.4" fill="#fff" stroke="#1fdb1f" stroke-width="4.5"/><circle cx="324.6" cy="182.2" r="7.4" fill="#fff" stroke="#1fdb1f" stroke-width="4.5"/><circle cx="440.0" cy="312.8" r="7.4" fill="#fff" stroke="#1fdb1f" stroke-width="4.5"/><circle cx="554.4" cy="103.3" r="7.4" fill="#fff" stroke="#1fdb1f" stroke-width="4.5"/><circle cx="670.3" cy="508.0" r="7.4" fill="#fff" stroke="#1fdb1f" stroke-width="4.5"/>
<polyline points="94.3,313.6 210.2,270.8 324.6,289.3 440.0,298.5 554.4,275.9 670.3,332.7" fill="none" stroke="#0d52f0" stroke-width="9.0" stroke-linejoin="round" stroke-linecap="round"/><circle cx="94.3" cy="313.6" r="7.4" fill="#fff" stroke="#0d52f0" stroke-width="4.5"/><circle cx="210.2" cy="270.8" r="7.4" fill="#fff" stroke="#0d52f0" stroke-width="4.5"/><circle cx="324.6" cy="289.3" r="7.4" fill="#fff" stroke="#0d52f0" stroke-width="4.5"/><circle cx="440.0" cy="298.5" r="7.4" fill="#fff" stroke="#0d52f0" stroke-width="4.5"/><circle cx="554.4" cy="275.9" r="7.4" fill="#fff" stroke="#0d52f0" stroke-width="4.5"/><circle cx="670.3" cy="332.7" r="7.4" fill="#fff" stroke="#0d52f0" stroke-width="4.5"/>
</g>
<path d="M67.7,225H136.9Q142.4,225 142.4,230.5V247.0Q142.4,252.5 136.9,252.5H134.6L134.2,274L126.6,252.5H67.7Q62.2,252.5 62.2,247.0V230.5Q62.2,225 67.7,225Z" fill="#ba632b"/><text class="k" x="72.3" y="245.5" font-size="15.5" font-weight="bold" fill="#fff" textLength="59" lengthAdjust="spacing">소매판매</text>
<path d="M151.7,184.3H242.9Q248.4,184.3 248.4,189.8V206.5Q248.4,212 242.9,212H207.4L207.6,233L199,212H151.7Q146.2,212 146.2,206.5V189.8Q146.2,184.3 151.7,184.3Z" fill="#0d52f0"/><text class="k" x="158.3" y="204.5" font-size="15.5" font-weight="bold" fill="#fff" textLength="77" lengthAdjust="spacing">전산업 생산</text>
<path d="M456.7,91H527.5Q533,91 533,96.5V113.0Q533,118.5 527.5,118.5H521L520.6,139.3L514.2,118.5H456.7Q451.2,118.5 451.2,113.0V96.5Q451.2,91 456.7,91Z" fill="#1fdb1f"/><text class="k" x="461.8" y="111" font-size="15.5" font-weight="bold" fill="#fff" textLength="58.5" lengthAdjust="spacing">설비투자</text>
<text transform="translate(80.44,278.89) scale(1.050,1)" font-size="18.66" letter-spacing="0.32" fill="#ba632b" stroke="#ba632b" stroke-width="0.45">0.0</text>
<text transform="translate(195.61,316.58) scale(1.050,1)" font-size="19.37" letter-spacing="0.24" fill="#ba632b" stroke="#ba632b" stroke-width="0.45">0.6</text>
<text transform="translate(310.20,239.28) scale(1.050,1)" font-size="19.50" letter-spacing="0.30" fill="#ba632b" stroke="#ba632b" stroke-width="0.45">2.7</text>
<text transform="translate(417.51,364.27) scale(1.050,1)" font-size="19.36" letter-spacing="0.73" fill="#ba632b" stroke="#ba632b" stroke-width="0.45"><tspan font-size="1.32em" dy="-0.03em">-</tspan><tspan dy="0.04em">2.4</tspan></text>
<text transform="translate(531.83,329.77) scale(1.050,1)" font-size="18.93" letter-spacing="1.20" fill="#ba632b" stroke="#ba632b" stroke-width="0.45"><tspan font-size="1.32em" dy="-0.03em">-</tspan><tspan dy="0.04em">0.1</tspan></text>
<text transform="translate(72.02,344.97) scale(1.050,1)" font-size="19.07" letter-spacing="0.57" fill="#2388e6" stroke="#2388e6" stroke-width="0.45"><tspan font-size="1.32em" dy="-0.03em">-</tspan><tspan dy="0.04em">1.2</tspan></text>
<text transform="translate(195.65,255.59) scale(1.050,1)" font-size="18.80" letter-spacing="0.46" fill="#2388e6" stroke="#2388e6" stroke-width="0.45">1.6</text>
<text transform="translate(309.92,320.58) scale(1.050,1)" font-size="19.08" letter-spacing="0.29" fill="#2388e6" stroke="#2388e6" stroke-width="0.45">0.4</text>
<text transform="translate(416.11,281.77) scale(1.050,1)" font-size="19.36" letter-spacing="0.54" fill="#2388e6" stroke="#2388e6" stroke-width="0.45"><tspan font-size="1.32em" dy="-0.03em">-</tspan><tspan dy="0.04em">0.3</tspan></text>
<text transform="translate(539.66,258.49) scale(1.050,1)" font-size="18.66" letter-spacing="0.79" fill="#2388e6" stroke="#2388e6" stroke-width="0.45">1.3</text>
<text transform="translate(70.72,413.57) scale(1.050,1)" font-size="19.07" letter-spacing="0.80" fill="#136a24" stroke="#136a24" stroke-width="0.45"><tspan font-size="1.32em" dy="-0.03em">-</tspan><tspan dy="0.04em">5.5</tspan></text>
<text transform="translate(187.52,392.57) scale(1.050,1)" font-size="19.07" letter-spacing="0.51" fill="#136a24" stroke="#136a24" stroke-width="0.45"><tspan font-size="1.32em" dy="-0.03em">-</tspan><tspan dy="0.04em">4.3</tspan></text>
<text transform="translate(309.52,165.88) scale(1.050,1)" font-size="19.08" letter-spacing="0.81" fill="#136a24" stroke="#136a24" stroke-width="0.45">7.6</text>
<text transform="translate(533.97,86.79) scale(1.050,1)" font-size="18.52" letter-spacing="0.59" fill="#136a24" stroke="#136a24" stroke-width="0.45">12.6</text>
<text transform="translate(452.35,315.55) scale(1.050,1)" font-size="15.86" letter-spacing="0.05" fill="#136a24" stroke="#136a24" stroke-width="0.3"><tspan font-size="1.32em" dy="-0.03em">-</tspan><tspan dy="0.04em">1.3</tspan></text>
<text transform="translate(686.35,250.87) scale(0.983,1)" font-size="33.24" fill="#ba632b" font-weight="bold" stroke="#8fd1f7" stroke-width="0.45">3.5</text><text transform="translate(731.40,251.44) scale(0.830,1)" font-size="36.29" fill="#ba632b" stroke="#8fd1f7" stroke-width="0.85">%</text>
<text transform="translate(684.90,341.40) scale(1.285,0.909)" font-size="33" font-weight="bold" fill="#0d52f0">-</text><text transform="translate(698.04,345.66) scale(0.948,1)" font-size="33.80" fill="#0d52f0" font-weight="bold" stroke="#8fd1f7" stroke-width="0.45">2.5</text><text transform="translate(742.81,346.24) scale(0.823,1)" font-size="36.00" fill="#0d52f0" stroke="#8fd1f7" stroke-width="0.85">%</text>
<text transform="translate(686.38,517.40) scale(1.382,1.061)" font-size="33" font-weight="bold" fill="#1f8b3c">-</text><text transform="translate(700.97,520.00) scale(0.885,1)" font-size="34.49" fill="#1f8b3c" font-weight="bold" stroke="#8fd1f7" stroke-width="0.45">14.1</text><text transform="translate(763.19,520.24) scale(0.844,1)" font-size="36.00" fill="#1f8b3c" stroke="#8fd1f7" stroke-width="0.85">%</text>
<text transform="translate(83.03,557.47) scale(0.949,1)" font-size="22.86" fill="#4f609c" stroke="#fff" stroke-width="0.28">5</text><text class="k" x="96" y="558.5" font-size="19" fill="#4f609c">월</text><text transform="translate(79.04,577.61) scale(1.000,1)" font-size="14.26" letter-spacing="0.16" fill="#6473a5" stroke="#fff" stroke-width="0.28">(2025)</text>
<text transform="translate(196.99,557.47) scale(0.984,1)" font-size="22.54" fill="#4f609c" stroke="#fff" stroke-width="0.28">6</text><text class="k" x="210.2" y="558.5" font-size="19" fill="#4f609c">월</text>
<text transform="translate(311.49,557.94) scale(0.942,1)" font-size="23.53" fill="#4f609c" stroke="#fff" stroke-width="0.28">7</text><text class="k" x="324.7" y="558.5" font-size="19" fill="#4f609c">월</text>
<text transform="translate(427.13,557.47) scale(0.963,1)" font-size="22.54" fill="#4f609c" stroke="#fff" stroke-width="0.28">8</text><text class="k" x="440.1" y="558.5" font-size="19" fill="#4f609c">월</text>
<text transform="translate(539.99,557.47) scale(0.984,1)" font-size="22.54" fill="#4f609c" stroke="#fff" stroke-width="0.28">9</text><text class="k" x="553.2" y="558.5" font-size="19" fill="#4f609c">월</text><text transform="translate(537.57,577.56) scale(0.957,1)" font-size="14.47" fill="#6473a5" stroke="#fff" stroke-width="0.28">(</text><text class="k" x="543.3" y="578.7" font-size="12.5" fill="#6473a5" textLength="24.3" lengthAdjust="spacing">잠정</text><text transform="translate(568.66,577.56) scale(0.957,1)" font-size="14.47" fill="#6473a5" stroke="#fff" stroke-width="0.28">)</text>
<text transform="translate(623.91,557.47) scale(0.995,1)" font-size="22.54" fill="#4f609c" stroke="#fff" stroke-width="0.28">10</text><text class="k" x="649.8" y="558.5" font-size="19" fill="#4f609c">월</text><text transform="translate(628.17,577.56) scale(0.957,1)" font-size="14.47" fill="#6473a5" stroke="#fff" stroke-width="0.28">(</text><text class="k" x="633.9" y="578.7" font-size="12.5" fill="#6473a5" textLength="24.3" lengthAdjust="spacing">잠정</text><text transform="translate(659.26,577.56) scale(0.957,1)" font-size="14.47" fill="#6473a5" stroke="#fff" stroke-width="0.28">)</text></svg>
</body></html>
